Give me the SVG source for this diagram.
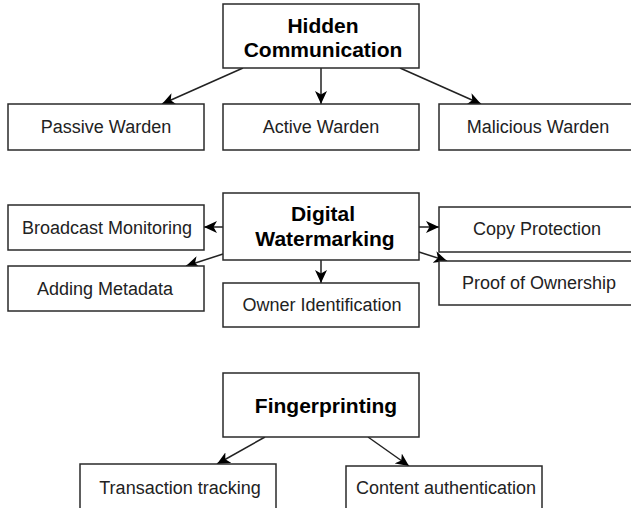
<svg xmlns="http://www.w3.org/2000/svg" width="631" height="508" viewBox="0 0 631 508">
<style>
.box{fill:#fff;stroke:#2a2a2a;stroke-width:1.5}
.lbl{font-family:"Liberation Sans",Arial,sans-serif;font-size:18px;fill:#222;text-anchor:middle}
.ttl{font-family:"Liberation Sans",Arial,sans-serif;font-size:21px;font-weight:bold;fill:#000;text-anchor:middle}
.edge{stroke:#222;stroke-width:1.5;fill:none;marker-end:url(#arr)}
</style>
<defs>
<marker id="arr" markerUnits="userSpaceOnUse" markerWidth="14" markerHeight="12" refX="13" refY="6" orient="auto">
<path d="M0,0 L13,6 L0,12 L3.5,6 Z" fill="#000"/>
</marker>
</defs>
<rect width="631" height="508" fill="#fff"/>
<g id="connectors">
<line class="edge" x1="243" y1="68" x2="162" y2="104"/>
<line class="edge" x1="321" y1="68" x2="321" y2="104"/>
<line class="edge" x1="400" y1="68" x2="481" y2="104"/>
<line class="edge" x1="223" y1="227" x2="204" y2="227"/>
<line class="edge" x1="419" y1="227" x2="439" y2="227"/>
<line class="edge" x1="321" y1="260" x2="321" y2="283"/>
<line class="edge" x1="223" y1="254" x2="186" y2="266"/>
<line class="edge" x1="419" y1="252" x2="447" y2="261"/>
<line class="edge" x1="265" y1="437" x2="217" y2="464"/>
<line class="edge" x1="368" y1="437" x2="409" y2="466"/>
</g>
<g id="hidden"><rect class="box" x="223" y="4" width="196" height="64"/><text class="ttl" x="323" y="33">Hidden</text><text class="ttl" x="323" y="57">Communication</text></g>
<g id="passive"><rect class="box" x="8" y="104" width="196" height="46"/><text class="lbl" x="106" y="133">Passive Warden</text></g>
<g id="active"><rect class="box" x="223" y="104" width="196" height="46"/><text class="lbl" x="321" y="133">Active Warden</text></g>
<g id="malicious"><rect class="box" x="439" y="104" width="196" height="46"/><text class="lbl" x="538" y="133">Malicious Warden</text></g>
<g id="digital"><rect class="box" x="223" y="193" width="196" height="67"/><text class="ttl" x="323" y="221">Digital</text><text class="ttl" x="325" y="246">Watermarking</text></g>
<g id="broadcast"><rect class="box" x="8" y="205" width="196" height="45"/><text class="lbl" x="107" y="234">Broadcast Monitoring</text></g>
<g id="metadata"><rect class="box" x="8" y="266" width="196" height="45"/><text class="lbl" x="105" y="295">Adding Metadata</text></g>
<g id="owner"><rect class="box" x="223" y="283" width="196" height="44"/><text class="lbl" x="322" y="311">Owner Identification</text></g>
<g id="copy"><rect class="box" x="439" y="207" width="196" height="45"/><text class="lbl" x="537" y="235">Copy Protection</text></g>
<g id="proof"><rect class="box" x="439" y="261" width="196" height="44"/><text class="lbl" x="539" y="289">Proof of Ownership</text></g>
<g id="fingerprinting"><rect class="box" x="223" y="373" width="196" height="64"/><text class="ttl" x="326" y="413">Fingerprinting</text></g>
<g id="transaction"><rect class="box" x="80" y="464" width="196" height="50"/><text class="lbl" x="180" y="494">Transaction tracking</text></g>
<g id="content"><rect class="box" x="346" y="466" width="196" height="50"/><text class="lbl" x="446" y="494">Content authentication</text></g>
</svg>
